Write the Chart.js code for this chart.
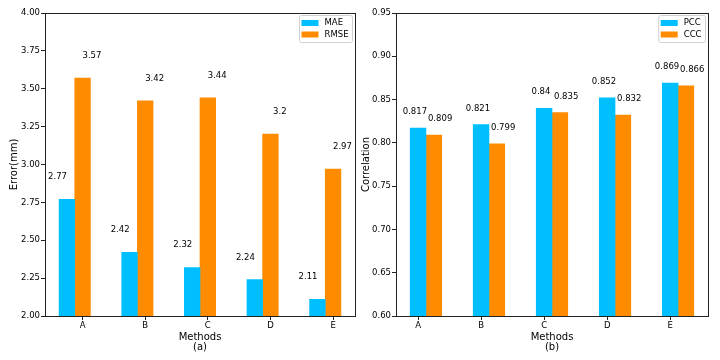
<!DOCTYPE html>
<html>
<head>
<meta charset="utf-8">
<script src="https://cdn.jsdelivr.net/npm/chart.js@4/dist/chart.umd.min.js"></script>
<style>
  html, body { margin: 0; padding: 0; background: #fff; }
  .wrap { display: flex; width: 720px; height: 360px; }
  .cell { width: 360px; height: 360px; }
</style>
</head>
<body>
<div class="wrap">
  <div class="cell"><canvas id="errChart" width="360" height="360"></canvas></div>
  <div class="cell"><canvas id="corrChart" width="360" height="360"></canvas></div>
</div>
<script>
const methods = ['A', 'B', 'C', 'D', 'E'];
const mae = [2.77, 2.42, 2.32, 2.24, 2.11];
const rmse = [3.57, 3.42, 3.44, 3.2, 2.97];
const pcc = [0.817, 0.821, 0.84, 0.852, 0.869];
const ccc = [0.809, 0.799, 0.835, 0.832, 0.866];

const BLUE = '#00bfff';
const ORANGE = '#ff8c00';
const FONT = 'DejaVu Sans';

// bars sit at index + shift (the ticks fall on one bar of each pair)
function pts(values, shift) {
    return values.map((v, i) => ({ x: i + shift, y: v }));
}

// text above each bar, placed through the scales
const valueLabels = {
    id: 'valueLabels',
    afterDatasetsDraw(chart) {
        const ctx = chart.ctx;
        const xs = chart.scales.x, ys = chart.scales.y;
        ctx.save();
        ctx.font = '8.5px "' + FONT + '"';
        ctx.fillStyle = '#000';
        ctx.textAlign = 'center';
        ctx.textBaseline = 'middle';
        chart.data.datasets.forEach(ds => {
            ds.data.forEach(p => {
                ctx.fillText(String(p.y), xs.getPixelForValue(p.x + ds.labelDx), ys.getPixelForValue(p.y + ds.labelDy));
            });
        });
        ctx.restore();
    }
};

// frame round the plot + legend in the upper right corner
const frameLegend = {
    id: 'frameLegend',
    afterDraw(chart) {
        const ctx = chart.ctx;
        const a = chart.chartArea;
        ctx.save();
        ctx.strokeStyle = '#222';
        ctx.lineWidth = 1;
        ctx.strokeRect(Math.round(a.left) + 0.5, Math.round(a.top) + 0.5, Math.round(a.right - a.left), Math.round(a.bottom - a.top));

        ctx.font = '8.5px "' + FONT + '"';
        const sets = chart.data.datasets;
        const textW = Math.max(...sets.map(d => ctx.measureText(d.label).width));
        const w = 2.5 + 17 + 6 + textW + 3.5;
        const h = 27;
        const right = a.right - 3;
        const left = right - w;
        const top = a.top + 2;
        ctx.fillStyle = 'rgba(255,255,255,0.8)';
        ctx.strokeStyle = '#d0d0d0';
        ctx.beginPath();
        ctx.roundRect(left + 0.5, top + 0.5, w, h, 2);
        ctx.fill();
        ctx.stroke();
        ctx.textAlign = 'left';
        ctx.textBaseline = 'middle';
        sets.forEach((d, i) => {
            const cy = top + 8 + i * 11.5;
            ctx.fillStyle = d.backgroundColor;
            ctx.fillRect(left + 2.5, cy - 3, 17, 6);
            ctx.fillStyle = '#000';
            ctx.fillText(d.label, left + 2.5 + 17 + 6, cy);
        });
        ctx.restore();
    }
};

function makeChart(id, cfg) {
    return new Chart(document.getElementById(id), {
        type: 'bar',
        data: {
            datasets: [
                { label: cfg.names[0], data: pts(cfg.series[0], cfg.shifts[0]), backgroundColor: BLUE,
                  borderWidth: 0, grouped: false, barPercentage: 1, categoryPercentage: 1,
                  labelDx: cfg.labelDx[0], labelDy: cfg.labelDy },
                { label: cfg.names[1], data: pts(cfg.series[1], cfg.shifts[1]), backgroundColor: ORANGE,
                  borderWidth: 0, grouped: false, barPercentage: 1, categoryPercentage: 1,
                  labelDx: cfg.labelDx[1], labelDy: cfg.labelDy }
            ]
        },
        options: {
            responsive: false,
            animation: false,
            layout: { padding: { top: 13, right: cfg.padRight, bottom: 0, left: 0 } },
            plugins: { legend: { display: false }, tooltip: { enabled: false } },
            scales: {
                x: {
                    type: 'linear',
                    min: cfg.xMin,
                    max: cfg.xMax,
                    offset: false,
                    grid: { offset: false, drawOnChartArea: false, tickLength: 4, tickColor: '#222' },
                    border: { color: '#222' },
                    ticks: {
                        stepSize: 1,
                        includeBounds: false,
                        padding: 1,
                        color: '#000',
                        font: { family: FONT, size: 8.5 },
                        callback: v => methods[v] ?? ''
                    },
                    title: {
                        display: true,
                        text: ['Methods', cfg.tag],
                        color: '#000',
                        font: { family: FONT, size: 10, lineHeight: 1.0 },
                        padding: { top: 0, bottom: 8 }
                    },
                    afterFit: s => { s.height = 44; }
                },
                y: {
                    min: cfg.yMin,
                    max: cfg.yMax,
                    beginAtZero: false,
                    grid: { drawOnChartArea: false, tickLength: 4, tickColor: '#222' },
                    border: { color: '#222' },
                    ticks: {
                        stepSize: cfg.yStep,
                        padding: 1,
                        color: '#000',
                        font: { family: FONT, size: 8.5 },
                        callback: v => Number(v).toFixed(2)
                    },
                    title: {
                        display: true,
                        text: cfg.yTitle,
                        color: '#000',
                        font: { family: FONT, size: 10 },
                        padding: { top: cfg.yTitlePad, bottom: 0 }
                    },
                    afterFit: s => { s.width = cfg.yWidth; }
                }
            }
        },
        plugins: [valueLabels, frameLegend]
    });
}

window.onload = function() {
    // (a) errors
    makeChart('errChart', {
        names: ['MAE', 'RMSE'],
        series: [mae, rmse],
        shifts: [-0.25, 0],
        labelDx: [-0.15, 0.15],
        labelDy: 0.147,
        xMin: -0.6, xMax: 4.35,
        yMin: 2, yMax: 4, yStep: 0.25,
        yTitle: 'Error(mm)',
        yTitlePad: 8,
        yWidth: 45,
        padRight: 5,
        tag: '(a)'
    });

    // (b) correlation
    makeChart('corrChart', {
        names: ['PCC', 'CCC'],
        series: [pcc, ccc],
        shifts: [0, 0.25],
        labelDx: [-0.05, 0.1],
        labelDy: 0.0185,
        xMin: -0.35, xMax: 4.6,
        yMin: 0.6, yMax: 0.95, yStep: 0.05,
        yTitle: 'Correlation',
        yTitlePad: 0,
        yWidth: 36,
        padRight: 12,
        tag: '(b)'
    });
};
</script>
</body>
</html>
